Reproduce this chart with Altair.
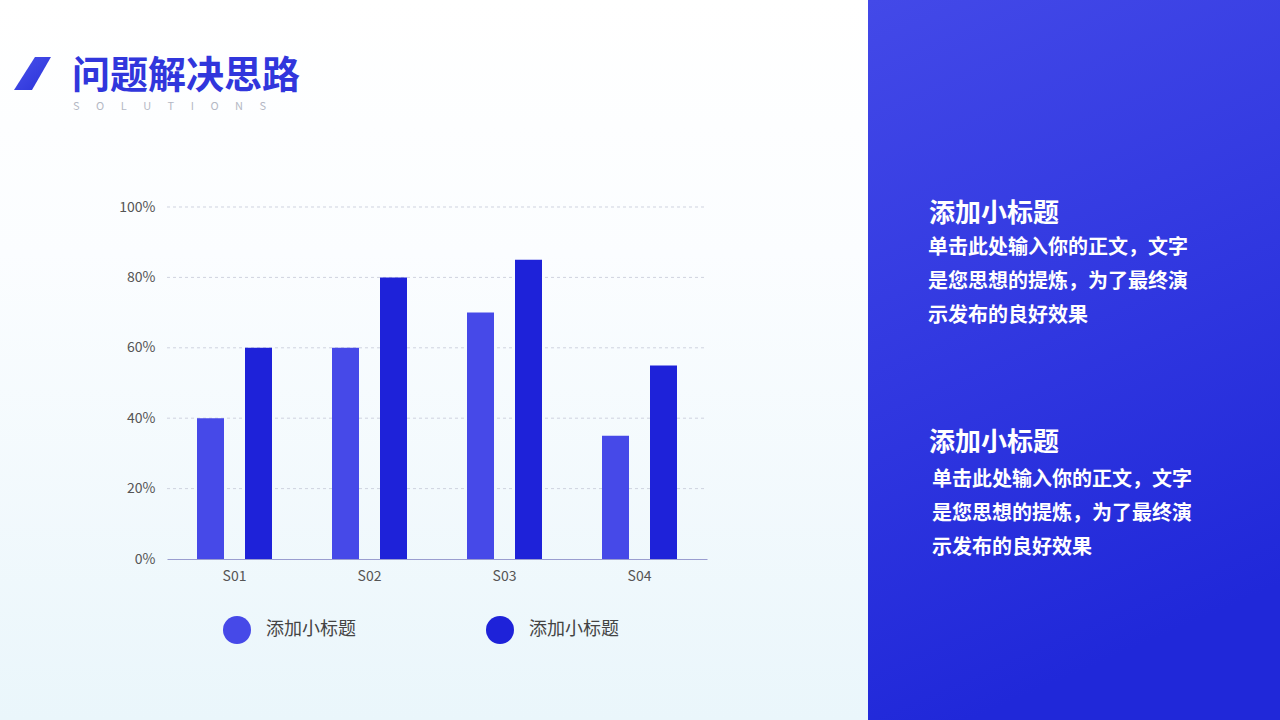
import altair as alt
import pandas as pd

# ---------------- data ----------------
categories = ["S01", "S02", "S03", "S04"]
series_keys = ["s1", "s2"]
series_labels = ["添加小标题", "添加小标题"]
series1_values = [40, 60, 70, 35]
series2_values = [60, 80, 85, 55]
y_ticks = [0, 20, 40, 60, 80, 100]

title_text = "问题解决思路"
subtitle_text = "\u2003\u2002".join(list("SOLUTIONS"))
panel_heading = "添加小标题"
panel_body = ["单击此处输入你的正文，文字", "是您思想的提炼，为了最终演", "示发布的良好效果"]

# ---------------- layout ----------------
PL, PT = 167, 207          # plot origin on the canvas
W, H = 540, 352            # plot area
FONT = "Noto Sans CJK SC"
C1, C2 = "#4649E8", "#1E22D9"

rows = []
for c, a, b in zip(categories, series1_values, series2_values):
    rows.append({"category": c, "series": series_keys[0], "value": a})
    rows.append({"category": c, "series": series_keys[1], "value": b})
df = pd.DataFrame(rows)
grid_df = pd.DataFrame({"value": y_ticks[1:]})

one = alt.Data(values=[{"k": 1}])


def gx(px):
    return alt.value(px - PL)


def gy(py):
    return alt.value(py - PT)


# background of the left part
bg = alt.Chart(one).mark_rect(
    color=alt.LinearGradient(
        gradient="linear", x1=0, y1=0, x2=0, y2=1,
        stops=[alt.GradientStop(color="#ffffff", offset=0),
               alt.GradientStop(color="#fbfdff", offset=0.35),
               alt.GradientStop(color="#eaf6fb", offset=1)],
    )
).encode(x=gx(0), x2=gx(868), y=gy(0), y2=gy(720))

# right blue panel
panel = alt.Chart(one).mark_rect(
    color=alt.LinearGradient(
        gradient="linear", x1=0, y1=0, x2=0.25, y2=1,
        stops=[alt.GradientStop(color="#4349E8", offset=0),
               alt.GradientStop(color="#2028D9", offset=1)],
    )
).encode(x=gx(868), x2=gx(1280), y=gy(0), y2=gy(720))

# title logo
logo = alt.Chart(one).mark_point(
    shape="M 0.15 -1 L 1.12 -1 L -0.03 1 L -1.12 1 Z",
    size=1089, filled=True, opacity=1, strokeWidth=0,
    color=alt.LinearGradient(
        gradient="linear", x1=0, y1=0, x2=1, y2=1,
        stops=[alt.GradientStop(color="#4a52ec", offset=0),
               alt.GradientStop(color="#2a32d8", offset=1)],
    ),
).encode(x=gx(32.5), y=gy(73.5))

title = alt.Chart(one).mark_text(
    text=title_text, font=FONT, fontSize=38, fontWeight="bold",
    color="#3136dc", align="left", baseline="middle",
).encode(x=gx(72), y=gy(77))

subtitle = alt.Chart(one).mark_text(
    text=subtitle_text, font=FONT, fontSize=11, color="#b4b8c4",
    align="left", baseline="middle",
).encode(x=gx(73), y=gy(107))

# panel texts
panel_layers = []
for tx, ty, bx, by in [(929, 214, 928, 248), (929, 443, 932, 480)]:
    panel_layers.append(
        alt.Chart(one).mark_text(
            text=panel_heading, font=FONT, fontSize=26, fontWeight="bold",
            color="#ffffff", align="left", baseline="middle",
        ).encode(x=gx(tx), y=gy(ty))
    )
    for i, line in enumerate(panel_body):
        panel_layers.append(
            alt.Chart(one).mark_text(
                text=line, font=FONT, fontSize=20, fontWeight="bold",
                color="#ffffff", align="left", baseline="middle",
            ).encode(x=gx(bx), y=gy(by + i * 34))
        )

label_expr = "datum.value == '{}' ? '{}' : '{}'".format(
    series_keys[0], series_labels[0], series_labels[1]
)

y_axis = alt.Axis(
    title=None, values=y_ticks, labelExpr="datum.value + '%'",
    domain=False, ticks=False, grid=False, zindex=1,
    labelFont=FONT, labelFontSize=14, labelColor="#555555",
    labelPadding=12,
)
y_scale = alt.Scale(domain=[0, 100], nice=False)

grid = alt.Chart(grid_df).mark_rule(
    color="#cfd3df", strokeDash=[3, 3], strokeWidth=1
).encode(
    y=alt.Y("value:Q", scale=y_scale, axis=y_axis),
    x=alt.value(0), x2=alt.value(W),
)

bars = alt.Chart(df).mark_bar(width=27).encode(
    x=alt.X(
        "category:N", sort=categories,
        scale=alt.Scale(paddingInner=0, paddingOuter=0),
        axis=alt.Axis(
            title=None, labelAngle=0, ticks=False, grid=False, zindex=1,
            domainColor="#9a9dd0", domainWidth=1,
            labelFont=FONT, labelFontSize=14, labelColor="#555555",
            labelPadding=10,
        ),
    ),
    xOffset=alt.XOffset(
        "series:N", sort=series_keys,
        scale=alt.Scale(paddingInner=0.4375, paddingOuter=0.625),
    ),
    y=alt.Y("value:Q", scale=y_scale, axis=y_axis),
    color=alt.Color(
        "series:N",
        scale=alt.Scale(domain=series_keys, range=[C1, C2]),
        legend=alt.Legend(
            orient="none", legendX=56, legendY=409, direction="horizontal",
            title=None, symbolType="circle", symbolSize=784,
            symbolStrokeWidth=0, symbolOpacity=1,
            labelFont=FONT, labelFontSize=18, labelColor="#444444",
            labelOffset=15, columnPadding=130, padding=0,
            labelExpr=label_expr,
        ),
    ),
)

chart = alt.layer(bg, panel, logo, title, subtitle, *panel_layers, grid, bars).properties(
    width=W, height=H,
    autosize=alt.AutoSizeParams(type="none"),
    padding={"left": PL, "top": PT, "right": 1280 - PL - W, "bottom": 720 - PT - H},
    background="#ffffff",
).configure_view(stroke=None)

chart.save("out.html", embed_options={"renderer": "svg", "actions": False})
